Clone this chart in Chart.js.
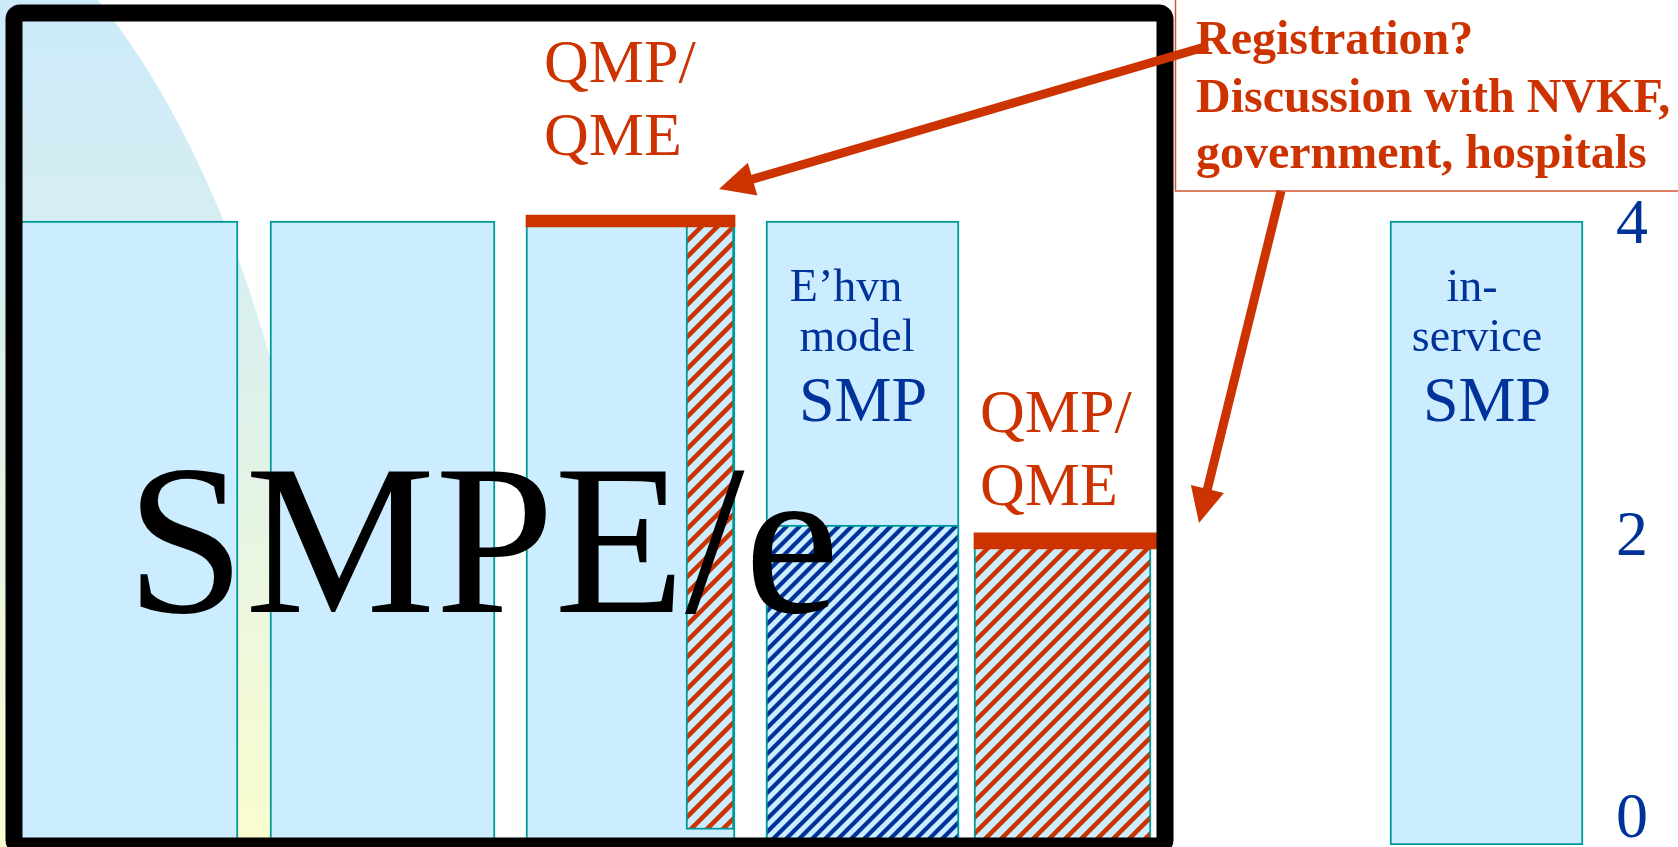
<!DOCTYPE html>
<html>
<head>
<meta charset="utf-8">
<title>SMPE/e – QMP/QME – SMP</title>
<script src="https://cdn.jsdelivr.net/npm/chart.js@4.4.1/dist/chart.umd.min.js"></script>
<style>
  html, body { margin: 0; padding: 0; background: #ffffff; }
  #wrap { position: relative; width: 1678px; height: 847px; }
</style>
</head>
<body>
<div id="wrap"><canvas id="chart"></canvas></div>
<script>
// ---------------- data (years of training) ----------------
const columns        = ['SMPE/e', 'SMPE/e', 'SMPE/e + QMP/QME', 'E’hvn model SMP', 'QMP/QME', 'in-service SMP'];
const programmeYears = [4, 4, 4, 4, null, 4];                         // light-blue columns
const qmpYears       = [null, null, [0.1, 4], null, [0, 1.95], null];  // red hatched QMP/QME part
const ehvnYears      = [null, null, null, [0, 2.05], null, null];      // blue hatched part
const qmpLevel       = [null, null, 4, null, 1.95, null];              // QMP/QME level marker
const yearTicks      = [0, 2, 4];

// ---------------- layout (slide units, 1 unit = 1 px) ----------------
const W = 1678, H = 847;
const colX   = [[14, 238], [270, 495], [526, 735], [766, 959], [974, 1151], [1390, 1583]];
const qmpX   = [null, null, [686, 734], null, [974, 1151], null];
const levelX = [null, null, [526, 735], null, [974, 1158], null];
const levelPx = [null, null, 12, null, 16, null];
const Y_MAX = 5.4167, PAD_BOTTOM = 2;
const pxPerYear = (H - PAD_BOTTOM) / Y_MAX;

// ---------------- styles ----------------
const LIGHT = '#CCECFF', TEAL = '#009999', RED = '#CC3300', BLUE = '#003399';

function stripes(bg, fg, size, width) {
  const c = document.createElement('canvas');
  c.width = size; c.height = size;
  const g = c.getContext('2d');
  g.fillStyle = bg; g.fillRect(0, 0, size, size);
  g.strokeStyle = fg; g.lineWidth = width; g.lineCap = 'square';
  g.beginPath();
  for (let k = -1; k <= 1; k++) { g.moveTo(k * size, size); g.lineTo(k * size + size, 0); }
  g.stroke();
  return g.createPattern(c, 'repeat');
}
const redHatch  = stripes(LIGHT, RED, 16, 4.5);
const blueHatch = stripes(LIGHT, BLUE, 13, 4.2);

function rect(label, span, yRange, style, order) {
  return Object.assign({
    label,
    data: [{ x: (span[0] + span[1]) / 2, y: yRange }],
    barThickness: span[1] - span[0],
    grouped: false,
    borderSkipped: false,
    order
  }, style);
}

const datasets = [];
columns.forEach((name, i) => {
  if (programmeYears[i] != null)
    datasets.push(rect(name, colX[i], [0, programmeYears[i]],
      { backgroundColor: LIGHT, borderColor: TEAL, borderWidth: 2 }, 3));
  if (ehvnYears[i])
    datasets.push(rect(name + ' (E’hvn)', colX[i], ehvnYears[i],
      { backgroundColor: blueHatch, borderColor: TEAL, borderWidth: 2 }, 2));
  if (qmpYears[i])
    datasets.push(rect(name + ' (QMP/QME)', qmpX[i], qmpYears[i],
      { backgroundColor: redHatch, borderColor: TEAL, borderWidth: 2 }, 2));
  if (qmpLevel[i] != null) {
    const h = levelPx[i] / 2 / pxPerYear;
    datasets.push(rect('QMP/QME level', levelX[i], [qmpLevel[i] - h, qmpLevel[i] + h],
      { backgroundColor: RED, borderWidth: 0 }, 1));
  }
});

// ---------------- slide decoration ----------------
function arrow(ctx, x1, y1, x2, y2) {
  const len = Math.hypot(x2 - x1, y2 - y1);
  const ux = (x2 - x1) / len, uy = (y2 - y1) / len;
  const headLen = 35, headHalf = 17;
  const bx = x2 - ux * headLen, by = y2 - uy * headLen;
  ctx.save();
  ctx.strokeStyle = RED; ctx.fillStyle = RED; ctx.lineWidth = 9;
  ctx.beginPath(); ctx.moveTo(x1, y1); ctx.lineTo(bx + ux * 2, by + uy * 2); ctx.stroke();
  ctx.beginPath();
  ctx.moveTo(x2, y2);
  ctx.lineTo(bx - uy * headHalf, by + ux * headHalf);
  ctx.lineTo(bx + uy * headHalf, by - ux * headHalf);
  ctx.closePath(); ctx.fill();
  ctx.restore();
}

function centred(ctx, text, cx, baseline) {
  ctx.fillText(text, cx - ctx.measureText(text).width / 2, baseline);
}

const slideDecor = {
  id: 'slideDecor',
  beforeDatasetsDraw(chart) {
    const ctx = chart.ctx;
    ctx.save();
    const grad = ctx.createLinearGradient(0, 0, 0, H);
    grad.addColorStop(0, '#CCEAFA');
    grad.addColorStop(0.45, '#DDF1EC');
    grad.addColorStop(1, '#FBFDCE');
    ctx.fillStyle = grad;
    ctx.beginPath();
    ctx.ellipse(-171, 847, 506, 1000, 0, 0, Math.PI * 2);
    ctx.fill();
    ctx.restore();
  },
  afterDatasetsDraw(chart) {
    const ctx = chart.ctx;
    const y = chart.scales.y;
    ctx.save();
    ctx.textBaseline = 'alphabetic';

    // big title across the first columns
    ctx.fillStyle = '#000000';
    ctx.font = '214px "Liberation Serif", "Times New Roman", serif';
    ctx.fillText('SMPE/e', 126, 612);

    // column captions
    ctx.fillStyle = BLUE;
    ctx.font = '46px "Liberation Serif", "Times New Roman", serif';
    centred(ctx, 'E’hvn', 846, 301);
    centred(ctx, 'model', 857, 351);
    centred(ctx, 'in-', 1472, 301);
    centred(ctx, 'service', 1477, 351);
    ctx.font = '64px "Liberation Serif", "Times New Roman", serif';
    centred(ctx, 'SMP', 863, 421);
    centred(ctx, 'SMP', 1487, 421);

    // QMP/QME captions
    ctx.fillStyle = RED;
    ctx.font = '62px "Liberation Serif", "Times New Roman", serif';
    ctx.fillText('QMP/', 544, 82);
    ctx.fillText('QME', 544, 155);
    ctx.fillText('QMP/', 980, 432);
    ctx.fillText('QME', 980, 505);

    // black slide frame
    ctx.strokeStyle = '#000000';
    ctx.lineWidth = 17;
    ctx.beginPath();
    ctx.roundRect(14, 13, 1151, 833, 6);
    ctx.stroke();

    // callout box
    ctx.fillStyle = '#ffffff';
    ctx.fillRect(1175, -2, 520, 193);
    ctx.strokeStyle = '#D4542E';
    ctx.lineWidth = 1.5;
    ctx.strokeRect(1175.5, -2, 520, 193);

    // arrows from the callout
    arrow(ctx, 1208, 46, 719, 189);
    arrow(ctx, 1281, 191, 1199, 523);

    ctx.fillStyle = RED;
    ctx.font = 'bold 48px "Liberation Serif", "Times New Roman", serif';
    ctx.fillText('Registration?', 1196, 54);
    ctx.fillText('Discussion with NVKF,', 1196, 112);
    ctx.fillText('government, hospitals', 1196, 168);

    // year axis labels on the right
    ctx.fillStyle = BLUE;
    ctx.font = '64px "Liberation Serif", "Times New Roman", serif';
    yearTicks.forEach(v => {
      const cy = Math.max(32, Math.min(y.getPixelForValue(v), H - 32));
      centred(ctx, String(v), 1632, cy + 22);
    });
    ctx.restore();
  }
};

new Chart(document.getElementById('chart'), {
  type: 'bar',
  data: { datasets },
  options: {
    responsive: true,
    maintainAspectRatio: false,
    animation: false,
    events: [],
    layout: { padding: { left: 0, right: 0, top: 0, bottom: PAD_BOTTOM } },
    plugins: { legend: { display: false }, tooltip: { enabled: false } },
    scales: {
      x: { type: 'linear', min: 0, max: W, offset: false, display: false },
      y: { type: 'linear', min: 0, max: Y_MAX, display: false }
    }
  },
  plugins: [slideDecor]
});
</script>
</body>
</html>
